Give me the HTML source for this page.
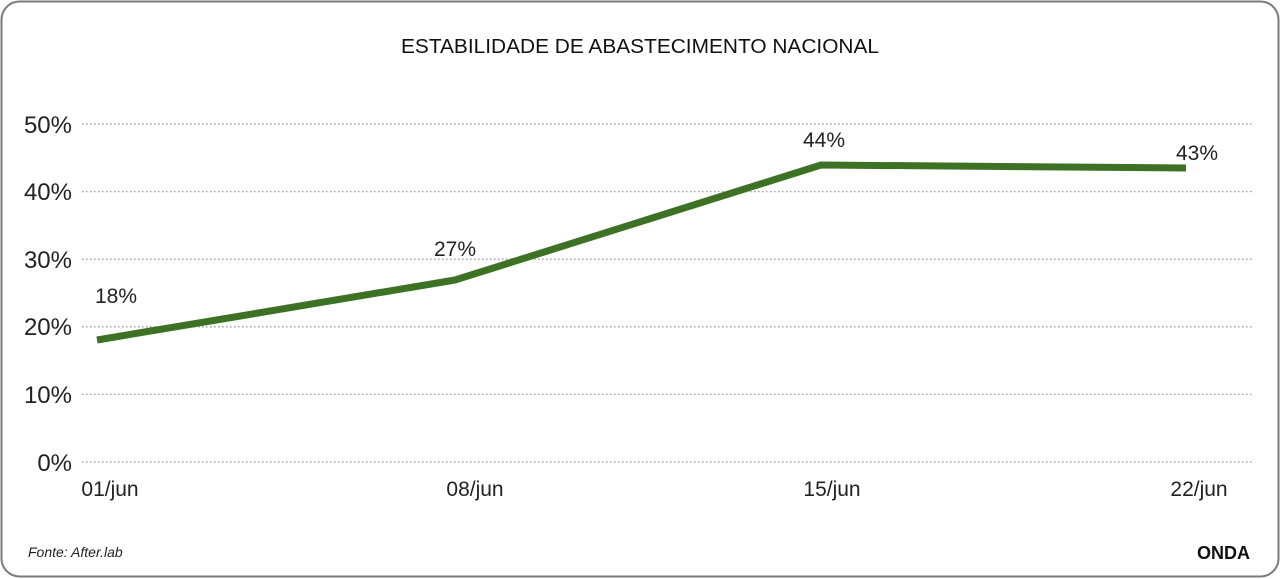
<!DOCTYPE html>
<html><head><meta charset="utf-8"><style>
body{margin:0;background:#fff;}
svg{display:block;font-family:"Liberation Sans",sans-serif;}
</style></head><body>
<svg width="1280" height="579" viewBox="0 0 1280 579">
<rect x="1.5" y="1.5" width="1277" height="575" rx="18" fill="#fff" stroke="#7a7a7a" stroke-width="2"/>
<text x="640" y="53" text-anchor="middle" font-size="20" fill="#111" textLength="478" lengthAdjust="spacingAndGlyphs">ESTABILIDADE DE ABASTECIMENTO NACIONAL</text>
<g stroke="#999" stroke-width="1.3" stroke-dasharray="1.5 2.5">
<line x1="82" y1="124" x2="1254" y2="124"/>
<line x1="82" y1="191.6" x2="1254" y2="191.6"/>
<line x1="82" y1="259.2" x2="1254" y2="259.2"/>
<line x1="82" y1="326.8" x2="1254" y2="326.8"/>
<line x1="82" y1="394.4" x2="1254" y2="394.4"/>
<line x1="82" y1="462" x2="1254" y2="462"/>
</g>
<g font-size="24" fill="#222" text-anchor="end">
<text x="72" y="133">50%</text>
<text x="72" y="200">40%</text>
<text x="72" y="268">30%</text>
<text x="72" y="335">20%</text>
<text x="72" y="403">10%</text>
<text x="72" y="471">0%</text>
</g>
<g font-size="21" fill="#222" text-anchor="middle">
<text x="110" y="496">01/jun</text>
<text x="475" y="496">08/jun</text>
<text x="832" y="496">15/jun</text>
<text x="1199" y="496">22/jun</text>
</g>
<polyline points="97,340 455,280 821,165 1186,168" fill="none" stroke="#3d7225" stroke-width="7" stroke-linejoin="round"/>
<g font-size="21" fill="#222" text-anchor="middle">
<text x="116" y="303">18%</text>
<text x="455" y="256">27%</text>
<text x="824" y="147">44%</text>
<text x="1197" y="160">43%</text>
</g>
<text x="28" y="557" font-size="14" font-style="italic" fill="#222">Fonte: After.lab</text>
<text x="1250" y="559" font-size="18" font-weight="bold" fill="#111" text-anchor="end">ONDA</text>
</svg>
</body></html>
